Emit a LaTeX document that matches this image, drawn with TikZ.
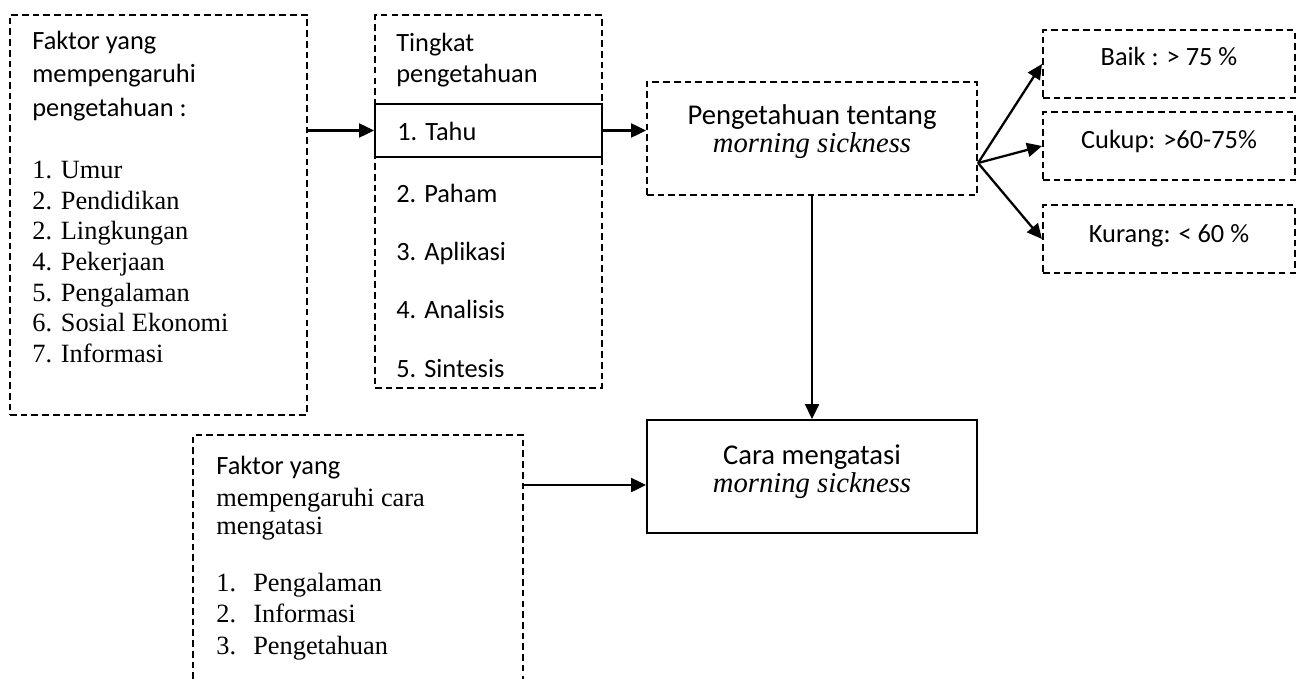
\documentclass[tikz,border=0pt]{standalone}
\usepackage{fontspec}
\setmainfont{Liberation Serif}
\newfontfamily\calibri{Carlito}
\usetikzlibrary{arrows.meta,fit}

\newcommand{\numitem}[2]{\makebox[0.74cm][l]{#1}#2}

\begin{document}
\begin{tikzpicture}[
    x=0.02cm,y=-0.02cm,>=Latex,
    dbox/.style={draw,line width=1.2pt,dash pattern=on 3.8pt off 2.3pt,inner sep=0pt},
    sbox/.style={draw,line width=1.2pt,inner sep=0pt},
    flow/.style={-{Triangle[length=8.5pt,width=8pt]},line width=1.3pt},
    cal/.style={anchor=base west,inner sep=0pt,font=\calibri\fontsize{15}{18}\selectfont},
    tms/.style={anchor=base west,inner sep=0pt,font=\fontsize{15}{18}\selectfont},
    calmid/.style={anchor=base,inner sep=0pt,font=\calibri\fontsize{15}{18}\selectfont},
    bigcal/.style={anchor=base,inner sep=0pt,font=\calibri\fontsize{16.3}{19}\selectfont},
    bigtms/.style={anchor=base,inner sep=0pt,font=\fontsize{16.3}{19}\selectfont\itshape}
  ]
  \useasboundingbox (0,0) rectangle (1304,679);

  % faktor yang mempengaruhi pengetahuan
  \node[dbox,fit={(10,15) (307,415)}] (faktor) {};
  \node[cal] (faktor-a) at (32,50) {Faktor yang};
  \node[cal] (faktor-b) at (32,83) {mempengaruhi};
  \node[cal] (faktor-c) at (32,116) {pengetahuan :};
  \node[tms] (umur) at (32,178) {1. Umur};
  \node[tms] (pendidikan) at (32,209) {2. Pendidikan};
  \node[tms] (lingkungan) at (32,239) {2. Lingkungan};
  \node[tms] (pekerjaan) at (32,270) {4. Pekerjaan};
  \node[tms] (pengalaman) at (32,301) {5. Pengalaman};
  \node[tms] (sosial) at (32,331) {6. Sosial Ekonomi};
  \node[tms] (informasi) at (32,362) {7. Informasi};

  % tingkat pengetahuan
  \node[dbox,fit={(375,15) (602,388)}] (tingkat) {};
  \node[sbox,fill=white,fit={(375,104) (602,157)}] (tahu) {};
  \node[cal] (tingkat-a) at (396,52) {Tingkat};
  \node[cal] (tingkat-b) at (396,83) {pengetahuan};
  \node[cal] (tahu-t) at (397,140) {1. Tahu};
  \node[cal] (paham) at (396,202) {2. Paham};
  \node[cal] (aplikasi) at (396,260) {3. Aplikasi};
  \node[cal] (analisis) at (396,318) {4. Analisis};
  \node[cal] (sintesis) at (396,377) {5. Sintesis};

  % pengetahuan tentang morning sickness
  \node[dbox,fit={(647,82) (977,195)}] (pengetahuan) {};
  \node[bigcal] (pengetahuan-a) at (812,124) {Pengetahuan tentang};
  \node[bigtms] (pengetahuan-b) at (812,153) {morning sickness};

  % kategori
  \node[dbox,fit={(1043,30) (1295,98)}] (baik) {};
  \node[calmid] (baik-t) at (1169,66) {Baik : > 75 \%};
  \node[dbox,fit={(1043,112) (1295,180)}] (cukup) {};
  \node[calmid] (cukup-t) at (1169,148) {Cukup: >60-75\%};
  \node[dbox,fit={(1043,205) (1295,273)}] (kurang) {};
  \node[calmid] (kurang-t) at (1169,242) {Kurang: < 60 \%};

  % cara mengatasi
  \node[sbox,fit={(647,420) (977,533)}] (cara) {};
  \node[bigcal] (cara-a) at (812,464) {Cara mengatasi};
  \node[bigtms] (cara-b) at (812,492) {morning sickness};

  % faktor yang mempengaruhi cara mengatasi (open at the bottom)
  \draw[dbox] (193,679) |- (523,435) -- (523,679);
  \coordinate (faktorcara-e) at (523,485);
  \node[cal] (faktorcara-a) at (216,474) {Faktor yang};
  \node[tms] (faktorcara-b) at (216,506) {mempengaruhi cara};
  \node[tms] (faktorcara-c) at (216,534) {mengatasi};
  \node[tms] (cara-i1) at (216,591) {\numitem{1.}{Pengalaman}};
  \node[tms] (cara-i2) at (216,622) {\numitem{2.}{Informasi}};
  \node[tms] (cara-i3) at (216,654) {\numitem{3.}{Pengetahuan}};

  \coordinate (fan) at (pengetahuan.east |- 0,163);

  \draw[flow] (tahu.west -| faktor.east) -- (tahu.west);
  \draw[flow] (tahu.east) -- (tahu.east -| pengetahuan.west);
  \draw[flow] (fan) -- (baik.west);
  \draw[flow] (fan) -- (cukup.west);
  \draw[flow] (fan) -- (kurang.west);
  \draw[flow] (pengetahuan.south) -- (cara.north);
  \draw[flow] (faktorcara-e) -- (faktorcara-e -| cara.west);
\end{tikzpicture}
\end{document}
